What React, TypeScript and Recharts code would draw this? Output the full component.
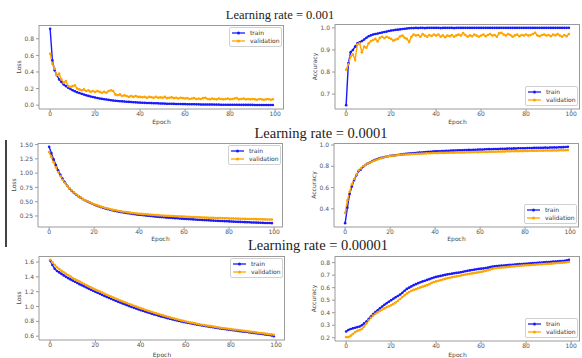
import React from 'react';
import { LineChart, Line, XAxis, YAxis, Legend } from 'recharts';

// epochs 0..99
const epochs = Array.from({ length: 100 }, (_, i) => i);
const epochTicks = [0, 20, 40, 60, 80, 100];

// learning rate = 0.001
const lr1LossTrain = [
  0.92, 0.54, 0.42, 0.36, 0.31, 0.28, 0.25, 0.23, 0.21, 0.195,
  0.18, 0.168, 0.156, 0.146, 0.137, 0.128, 0.12, 0.112, 0.105, 0.098,
  0.092, 0.086, 0.081, 0.076, 0.072, 0.068, 0.064, 0.06, 0.057, 0.054,
  0.051, 0.048, 0.046, 0.044, 0.042, 0.04, 0.038, 0.036, 0.034, 0.032,
  0.031, 0.03, 0.028, 0.027, 0.026, 0.025, 0.024, 0.023, 0.022, 0.021,
  0.02, 0.019, 0.018, 0.018, 0.017, 0.016, 0.015, 0.015, 0.014, 0.013,
  0.013, 0.012, 0.012, 0.011, 0.011, 0.01, 0.01, 0.009, 0.009, 0.009,
  0.008, 0.008, 0.008, 0.007, 0.007, 0.007, 0.006, 0.006, 0.006, 0.006,
  0.005, 0.005, 0.005, 0.005, 0.005, 0.004, 0.004, 0.004, 0.004, 0.004,
  0.004, 0.003, 0.003, 0.003, 0.003, 0.003, 0.003, 0.003, 0.003, 0.003,
];
const lr1LossVal = [
  0.62, 0.5, 0.44, 0.36, 0.38, 0.31, 0.27, 0.29, 0.23, 0.22,
  0.23, 0.24, 0.2, 0.19, 0.18, 0.19, 0.17, 0.18, 0.16, 0.17,
  0.16, 0.17, 0.16, 0.15, 0.16, 0.15, 0.17, 0.18, 0.17, 0.13,
  0.12, 0.13, 0.11, 0.12, 0.11, 0.1, 0.11, 0.1, 0.11, 0.1,
  0.1, 0.095, 0.1, 0.09, 0.1, 0.095, 0.09, 0.1, 0.09, 0.095,
  0.09, 0.1, 0.085, 0.09, 0.095, 0.085, 0.09, 0.08, 0.09, 0.085,
  0.08, 0.085, 0.075, 0.08, 0.085, 0.075, 0.08, 0.075, 0.085, 0.09,
  0.075, 0.07, 0.08, 0.075, 0.07, 0.08, 0.075, 0.07, 0.075, 0.08,
  0.07, 0.075, 0.08, 0.085, 0.07, 0.075, 0.08, 0.07, 0.075, 0.07,
  0.075, 0.07, 0.065, 0.075, 0.07, 0.065, 0.07, 0.075, 0.065, 0.072,
];
const lr1AccTrain = [
  0.65, 0.84, 0.89, 0.9, 0.915, 0.93, 0.935, 0.94, 0.947, 0.955,
  0.962, 0.966, 0.97, 0.972, 0.974, 0.977, 0.979, 0.981, 0.983, 0.986,
  0.988, 0.989, 0.991, 0.992, 0.993, 0.995, 0.996, 0.997, 0.998, 0.999,
  0.999, 1.0, 0.999, 1.0, 1.0, 0.999, 1.0, 1.0, 1.0, 1.0,
  1.0, 1.0, 0.999, 1.0, 1.0, 1.0, 1.0, 1.0, 0.999, 1.0,
  1.0, 1.0, 1.0, 1.0, 1.0, 1.0, 1.0, 1.0, 1.0, 1.0,
  1.0, 1.0, 1.0, 1.0, 1.0, 1.0, 1.0, 1.0, 1.0, 1.0,
  1.0, 1.0, 1.0, 1.0, 1.0, 1.0, 1.0, 1.0, 1.0, 1.0,
  1.0, 1.0, 1.0, 1.0, 1.0, 1.0, 1.0, 1.0, 1.0, 1.0,
  1.0, 1.0, 1.0, 1.0, 1.0, 1.0, 1.0, 1.0, 1.0, 1.0,
];
const lr1AccVal = [
  0.81, 0.835, 0.87, 0.88, 0.855, 0.925, 0.93, 0.89, 0.915, 0.91,
  0.93, 0.94, 0.945, 0.95, 0.938, 0.955, 0.96, 0.953, 0.96, 0.955,
  0.95, 0.942, 0.947, 0.95, 0.962, 0.965, 0.955, 0.95, 0.936, 0.96,
  0.97, 0.965, 0.968, 0.96, 0.972, 0.965, 0.96, 0.968, 0.963, 0.97,
  0.965, 0.97, 0.96, 0.966, 0.958, 0.965, 0.962, 0.968, 0.96, 0.966,
  0.97, 0.965, 0.977, 0.968, 0.96, 0.966, 0.962, 0.97, 0.965, 0.96,
  0.965, 0.97, 0.962, 0.968, 0.972, 0.965, 0.968, 0.96, 0.975, 0.978,
  0.97, 0.965, 0.972, 0.968, 0.96, 0.966, 0.97, 0.962, 0.968, 0.965,
  0.97, 0.965, 0.968, 0.972, 0.978, 0.966, 0.962, 0.968, 0.97, 0.965,
  0.968, 0.962, 0.97, 0.966, 0.972, 0.965, 0.96, 0.968, 0.962, 0.972,
];

// learning rate = 0.0001
const lr2LossTrain = [
  1.46, 1.35, 1.24, 1.14, 1.05, 0.97, 0.9, 0.84, 0.78, 0.73,
  0.69, 0.655, 0.62, 0.595, 0.57, 0.545, 0.525, 0.505, 0.485, 0.465,
  0.45, 0.435, 0.42, 0.405, 0.392, 0.38, 0.37, 0.36, 0.35, 0.34,
  0.332, 0.325, 0.318, 0.311, 0.305, 0.299, 0.293, 0.287, 0.281, 0.276,
  0.271, 0.266, 0.262, 0.258, 0.254, 0.25, 0.246, 0.242, 0.238, 0.234,
  0.23, 0.227, 0.224, 0.221, 0.218, 0.215, 0.212, 0.209, 0.206, 0.203,
  0.2, 0.198, 0.195, 0.193, 0.19, 0.188, 0.185, 0.183, 0.18, 0.178,
  0.175, 0.173, 0.171, 0.169, 0.167, 0.165, 0.163, 0.161, 0.159, 0.157,
  0.155, 0.153, 0.151, 0.149, 0.147, 0.146, 0.144, 0.142, 0.141, 0.139,
  0.137, 0.136, 0.134, 0.133, 0.131, 0.13, 0.128, 0.127, 0.126, 0.124,
];
const lr2LossVal = [
  1.37, 1.28, 1.19, 1.1, 1.02, 0.95, 0.885, 0.83, 0.78, 0.735,
  0.695, 0.66, 0.625, 0.598, 0.572, 0.548, 0.527, 0.507, 0.488, 0.47,
  0.455, 0.44, 0.427, 0.414, 0.402, 0.39, 0.38, 0.37, 0.361, 0.353,
  0.345, 0.338, 0.331, 0.325, 0.319, 0.313, 0.308, 0.303, 0.298, 0.294,
  0.29, 0.286, 0.282, 0.279, 0.276, 0.273, 0.27, 0.267, 0.264, 0.261,
  0.258, 0.256, 0.254, 0.252, 0.25, 0.248, 0.246, 0.244, 0.242, 0.24,
  0.238, 0.236, 0.234, 0.233, 0.231, 0.229, 0.228, 0.226, 0.224, 0.223,
  0.221, 0.22, 0.218, 0.217, 0.215, 0.214, 0.213, 0.211, 0.21, 0.209,
  0.207, 0.206, 0.205, 0.204, 0.203, 0.202, 0.2, 0.199, 0.198, 0.197,
  0.196, 0.195, 0.194, 0.193, 0.192, 0.191, 0.19, 0.189, 0.188, 0.187,
];
const lr2AccTrain = [
  0.265, 0.41, 0.54, 0.61, 0.67, 0.715, 0.755, 0.77, 0.795, 0.812,
  0.826, 0.836, 0.85, 0.858, 0.866, 0.875, 0.879, 0.884, 0.889, 0.894,
  0.898, 0.9, 0.903, 0.906, 0.909, 0.912, 0.914, 0.917, 0.919, 0.921,
  0.923, 0.925, 0.927, 0.929, 0.93, 0.932, 0.934, 0.936, 0.937, 0.939,
  0.94, 0.942, 0.941, 0.943, 0.944, 0.946, 0.945, 0.947, 0.948, 0.949,
  0.95, 0.951, 0.95, 0.952, 0.953, 0.954, 0.953, 0.955, 0.956, 0.957,
  0.958, 0.957, 0.959, 0.96, 0.961, 0.96, 0.962, 0.963, 0.962, 0.964,
  0.965, 0.964, 0.966, 0.967, 0.966, 0.968, 0.967, 0.969, 0.97, 0.969,
  0.97, 0.971, 0.972, 0.971, 0.973, 0.974, 0.973, 0.975, 0.974, 0.976,
  0.975, 0.977, 0.976, 0.978, 0.977, 0.979, 0.978, 0.98, 0.981, 0.983,
];
const lr2AccVal = [
  0.36, 0.48, 0.56, 0.63, 0.68, 0.72, 0.76, 0.78, 0.8, 0.813,
  0.825, 0.835, 0.845, 0.853, 0.862, 0.87, 0.876, 0.882, 0.888, 0.893,
  0.897, 0.899, 0.902, 0.904, 0.906, 0.908, 0.91, 0.911, 0.912, 0.914,
  0.915, 0.916, 0.917, 0.918, 0.919, 0.92, 0.921, 0.922, 0.923, 0.924,
  0.925, 0.924, 0.926, 0.927, 0.926, 0.928, 0.927, 0.929, 0.928, 0.93,
  0.93, 0.929, 0.931, 0.93, 0.932, 0.931, 0.933, 0.932, 0.934, 0.933,
  0.935, 0.934, 0.936, 0.935, 0.937, 0.936, 0.938, 0.937, 0.939, 0.938,
  0.94, 0.939, 0.941, 0.94, 0.942, 0.941, 0.943, 0.942, 0.944, 0.943,
  0.945, 0.944, 0.946, 0.945, 0.946, 0.947, 0.946, 0.948, 0.947, 0.948,
  0.949, 0.948, 0.949, 0.95, 0.949, 0.95, 0.951, 0.95, 0.951, 0.952,
];

// learning rate = 0.00001
const lr3LossTrain = [
  1.62, 1.56, 1.51, 1.48, 1.46, 1.44, 1.42, 1.4, 1.383, 1.366,
  1.35, 1.334, 1.318, 1.302, 1.287, 1.272, 1.257, 1.242, 1.227, 1.213,
  1.199, 1.185, 1.171, 1.157, 1.143, 1.13, 1.117, 1.104, 1.091, 1.078,
  1.066, 1.054, 1.042, 1.03, 1.018, 1.006, 0.995, 0.984, 0.973, 0.962,
  0.952, 0.942, 0.932, 0.922, 0.912, 0.903, 0.894, 0.885, 0.876, 0.867,
  0.859, 0.851, 0.843, 0.835, 0.827, 0.82, 0.813, 0.806, 0.799, 0.792,
  0.786, 0.78, 0.774, 0.768, 0.762, 0.756, 0.75, 0.745, 0.74, 0.735,
  0.73, 0.725, 0.72, 0.715, 0.71, 0.705, 0.7, 0.696, 0.692, 0.688,
  0.684, 0.68, 0.676, 0.672, 0.668, 0.664, 0.66, 0.656, 0.652, 0.648,
  0.644, 0.64, 0.636, 0.632, 0.628, 0.624, 0.62, 0.616, 0.61, 0.6,
];
const lr3LossVal = [
  1.63, 1.595, 1.56, 1.53, 1.505, 1.482, 1.461, 1.441, 1.422, 1.403,
  1.385, 1.368, 1.352, 1.336, 1.32, 1.304, 1.289, 1.274, 1.259, 1.244,
  1.229, 1.215, 1.201, 1.187, 1.173, 1.159, 1.146, 1.133, 1.12, 1.107,
  1.094, 1.082, 1.07, 1.058, 1.046, 1.034, 1.022, 1.011, 1.0, 0.989,
  0.978, 0.968, 0.957, 0.947, 0.937, 0.927, 0.917, 0.907, 0.898, 0.889,
  0.88, 0.871, 0.862, 0.853, 0.845, 0.837, 0.829, 0.821, 0.813, 0.806,
  0.799, 0.792, 0.785, 0.779, 0.773, 0.767, 0.761, 0.755, 0.75, 0.745,
  0.74, 0.735, 0.73, 0.725, 0.72, 0.715, 0.711, 0.707, 0.703, 0.699,
  0.695, 0.691, 0.687, 0.683, 0.679, 0.675, 0.671, 0.667, 0.663, 0.659,
  0.655, 0.651, 0.647, 0.643, 0.639, 0.635, 0.631, 0.627, 0.624, 0.62,
];
const lr3AccTrain = [
  0.25, 0.262, 0.27, 0.275, 0.28, 0.285, 0.29, 0.3, 0.315, 0.33,
  0.35, 0.37, 0.39, 0.405, 0.42, 0.435, 0.45, 0.463, 0.476, 0.488,
  0.5, 0.512, 0.523, 0.534, 0.545, 0.56, 0.575, 0.59, 0.6, 0.61,
  0.62, 0.628, 0.636, 0.643, 0.65, 0.655, 0.662, 0.668, 0.675, 0.681,
  0.686, 0.69, 0.694, 0.698, 0.702, 0.706, 0.709, 0.712, 0.715, 0.718,
  0.72, 0.723, 0.727, 0.731, 0.735, 0.738, 0.741, 0.744, 0.747, 0.75,
  0.752, 0.754, 0.757, 0.76, 0.764, 0.768, 0.771, 0.773, 0.775, 0.776,
  0.777, 0.779, 0.78, 0.782, 0.783, 0.785, 0.786, 0.788, 0.789, 0.79,
  0.791, 0.793, 0.794, 0.796, 0.797, 0.798, 0.8, 0.801, 0.803, 0.804,
  0.805, 0.806, 0.808, 0.809, 0.81, 0.812, 0.813, 0.815, 0.818, 0.822,
];
const lr3AccVal = [
  0.205, 0.205, 0.215, 0.23, 0.245, 0.255, 0.262, 0.27, 0.29, 0.315,
  0.34, 0.36, 0.378, 0.392, 0.404, 0.415, 0.425, 0.435, 0.444, 0.452,
  0.46, 0.47, 0.482, 0.495, 0.51, 0.525, 0.54, 0.553, 0.565, 0.575,
  0.582, 0.588, 0.595, 0.602, 0.608, 0.614, 0.62, 0.628, 0.638, 0.645,
  0.65, 0.655, 0.66, 0.665, 0.67, 0.675, 0.679, 0.683, 0.687, 0.69,
  0.693, 0.697, 0.701, 0.705, 0.708, 0.711, 0.714, 0.717, 0.72, 0.723,
  0.726, 0.73, 0.735, 0.74, 0.745, 0.75, 0.755, 0.757, 0.759, 0.761,
  0.762, 0.764, 0.766, 0.768, 0.77, 0.772, 0.773, 0.775, 0.776, 0.778,
  0.779, 0.78, 0.781, 0.783, 0.784, 0.785, 0.787, 0.788, 0.789, 0.79,
  0.791, 0.792, 0.794, 0.795, 0.797, 0.798, 0.8, 0.801, 0.803, 0.805,
];

const TRAIN_COLOR = '#1a1aff';
const VAL_COLOR = '#ffa500';
const FRAME = '#9a9a9a';
const TICK_TEXT = '#555';
const SANS = '"DejaVu Sans", sans-serif';
const SERIF = '"Liberation Serif", "Times New Roman", serif';

// y axis gets 40px, x axis 30px, plot box sits at (40, 5) inside each chart
const AXIS_W = 40;
const AXIS_H = 30;
const PAD = 5;

const renderLegend = (props: any) => {
  const items = props.payload || [];
  return (
    <div
      style={{
        border: '1px solid #d0d0d0',
        borderRadius: 2,
        background: 'rgba(255,255,255,0.85)',
        padding: '1px 2px',
        fontFamily: SANS,
        fontSize: 6,
        color: '#333',
        lineHeight: '8px',
        width: 47,
      }}
    >
      {items.map((p: any) => (
        <div key={p.value} style={{ display: 'flex', alignItems: 'center', height: 8 }}>
          <svg width={13} height={6} style={{ flex: 'none' }}>
            <line x1={0} y1={3} x2={13} y2={3} stroke={p.color} strokeWidth={1.3} />
            <circle cx={6.5} cy={3} r={1.5} fill={p.color} />
          </svg>
          <span style={{ marginLeft: 5 }}>{p.value}</span>
        </div>
      ))}
    </div>
  );
};

interface PanelProps {
  left: number;
  top: number;
  w: number;
  h: number;
  train: number[];
  val: number[];
  yDomain: [number, number];
  yTicks: number[];
  digits: number;
  yLabel: string;
  yLabelGap: number;
  xLabelGap: number;
  legendAt: 'top' | 'bottom';
}

function Panel(props: PanelProps) {
  const { left, top, w, h, train, val, yDomain, yTicks, digits, yLabel, yLabelGap, xLabelGap, legendAt } = props;
  const data = epochs.map((e) => ({ epoch: e, train: train[e], validation: val[e] }));
  const legendStyle =
    legendAt === 'top'
      ? { top: PAD + 2, right: PAD + 2 }
      : { bottom: AXIS_H + 3, right: PAD + 2 };

  return (
    <div style={{ position: 'absolute', left: left - AXIS_W, top: top - PAD }}>
      <LineChart
        width={w + AXIS_W + PAD}
        height={h + PAD + AXIS_H}
        data={data}
        margin={{ top: PAD, right: PAD, left: 0, bottom: 0 }}
      >
        <XAxis
          dataKey="epoch"
          type="number"
          domain={[-4.95, 103.95]}
          ticks={epochTicks}
          allowDataOverflow
          height={AXIS_H}
          tickSize={3}
          tickMargin={0}
          stroke={FRAME}
          tick={{ fontSize: 6, fill: TICK_TEXT, fontFamily: SANS }}
          label={{ value: 'Epoch', position: 'insideTop', offset: xLabelGap, style: { fontSize: 6, fill: '#444', fontFamily: SANS } }}
        />
        <YAxis
          type="number"
          domain={yDomain}
          ticks={yTicks}
          allowDataOverflow
          width={AXIS_W}
          tickSize={3}
          tickMargin={2}
          stroke={FRAME}
          tickFormatter={(v: number) => v.toFixed(digits)}
          tick={{ fontSize: 6, fill: TICK_TEXT, fontFamily: SANS }}
          label={{
            value: yLabel,
            angle: -90,
            position: 'insideLeft',
            offset: AXIS_W - yLabelGap,
            style: { textAnchor: 'middle', fontSize: 6, fill: '#444', fontFamily: SANS },
          }}
        />
        <Legend
          content={renderLegend}
          layout="vertical"
          align="center"
          verticalAlign="middle"
          wrapperStyle={legendStyle}
        />
        <Line
          name="train"
          dataKey="train"
          stroke={TRAIN_COLOR}
          strokeWidth={1.4}
          dot={{ r: 1.3, fill: TRAIN_COLOR, stroke: 'none' }}
          activeDot={false}
          isAnimationActive={false}
        />
        <Line
          name="validation"
          dataKey="validation"
          stroke={VAL_COLOR}
          strokeWidth={1.4}
          dot={{ r: 1.3, fill: VAL_COLOR, stroke: 'none' }}
          activeDot={false}
          isAnimationActive={false}
        />
      </LineChart>
      {/* axes box (top and right spines) */}
      <div
        style={{
          position: 'absolute',
          left: AXIS_W,
          top: PAD,
          width: w,
          height: h,
          boxSizing: 'border-box',
          borderTop: `1px solid ${FRAME}`,
          borderRight: `1px solid ${FRAME}`,
          pointerEvents: 'none',
        }}
      />
    </div>
  );
}

function Title({ text, center, top, size }: { text: string; center: number; top: number; size: number }) {
  return (
    <div
      style={{
        position: 'absolute',
        left: center - 150,
        width: 300,
        top,
        textAlign: 'center',
        fontFamily: SERIF,
        fontSize: size,
        lineHeight: `${size}px`,
        color: '#222',
        whiteSpace: 'nowrap',
      }}
    >
      {text}
    </div>
  );
}

export default function App() {
  return (
    <div style={{ position: 'absolute', left: 0, top: 0, width: 582, height: 358, overflow: 'hidden', background: '#fff' }}>
      <Title text="Learning rate = 0.001" center={280} top={9} size={12.5} />
      <Title text="Learning rate = 0.0001" center={321} top={126} size={14.5} />
      <Title text="Learning rate = 0.00001" center={318} top={238} size={14.5} />

      {/* thin dark rule on the far left */}
      <div style={{ position: 'absolute', left: 5, top: 140, width: 2, height: 107, background: '#444' }} />

      <Panel left={39} top={25} w={245} h={84} train={lr1LossTrain} val={lr1LossVal}
        yDomain={[-0.046, 0.966]} yTicks={[0, 0.2, 0.4, 0.6, 0.8]} digits={1}
        yLabel="Loss" yLabelGap={20} xLabelGap={11} legendAt="top" />
      <Panel left={335} top={24} w={245} h={85} train={lr1AccTrain} val={lr1AccVal}
        yDomain={[0.6325, 1.0175]} yTicks={[0.7, 0.8, 0.9, 1.0]} digits={1}
        yLabel="Accuracy" yLabelGap={20} xLabelGap={11} legendAt="bottom" />

      <Panel left={38} top={143} w={245} h={84} train={lr2LossTrain} val={lr2LossVal}
        yDomain={[0.057, 1.527]} yTicks={[0.25, 0.5, 0.75, 1.0, 1.25, 1.5]} digits={2}
        yLabel="Loss" yLabelGap={24} xLabelGap={10} legendAt="top" />
      <Panel left={334} top={143} w={245} h={84} train={lr2AccTrain} val={lr2AccVal}
        yDomain={[0.229, 1.019]} yTicks={[0.4, 0.6, 0.8, 1.0]} digits={1}
        yLabel="Accuracy" yLabelGap={20} xLabelGap={10} legendAt="bottom" />

      <Panel left={39} top={256} w={246} h={84} train={lr3LossTrain} val={lr3LossVal}
        yDomain={[0.5485, 1.6815]} yTicks={[0.6, 0.8, 1.0, 1.2, 1.4, 1.6]} digits={1}
        yLabel="Loss" yLabelGap={20} xLabelGap={13} legendAt="top" />
      <Panel left={335} top={256} w={245} h={85} train={lr3AccTrain} val={lr3AccVal}
        yDomain={[0.174, 0.853]} yTicks={[0.2, 0.3, 0.4, 0.5, 0.6, 0.7, 0.8]} digits={1}
        yLabel="Accuracy" yLabelGap={21} xLabelGap={12} legendAt="bottom" />
    </div>
  );
}
